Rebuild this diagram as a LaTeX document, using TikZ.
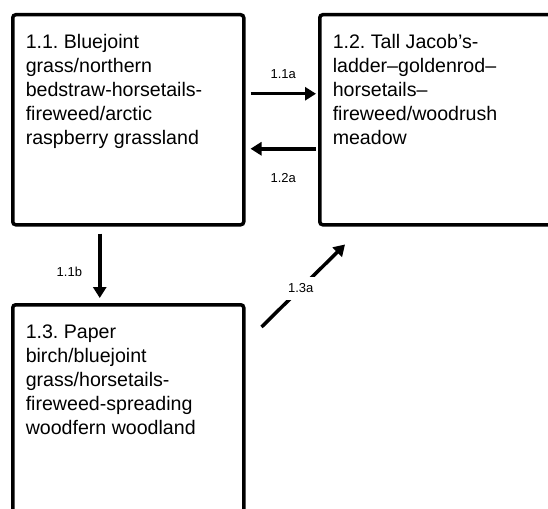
\documentclass[tikz,border=0pt]{standalone}
\usepackage{fontspec}
\setmainfont{Liberation Sans}
\usetikzlibrary{arrows.meta}

\begin{document}
\frenchspacing
\begin{tikzpicture}
        [x=1pt, y=-1pt,
         box/.style={draw, line width=3.5pt, rounded corners=3pt, anchor=north west, inner xsep=13pt, inner ysep=20pt, font=\fontsize{19.6}{24}\selectfont},
         flow/.style={line width=3.5pt, -{Triangle[length=11pt,width=13pt]}},
         lab/.style={font=\fontsize{13}{15}\selectfont, inner sep=0pt}]

        \useasboundingbox (0,0) rectangle (548,508);

        \node[box] (b11) at (11,13) {\parbox[t][170pt][t]{205pt}{1.1. Bluejoint\\grass/northern\\bedstraw-horsetails-\\fireweed/arctic\\raspberry grassland}};
        \node[box] (b12) at (318,13) {\parbox[t][170pt][t]{216pt}{1.2. Tall Jacob’s-\\ladder–goldenrod–\\horsetails–\\fireweed/woodrush\\meadow}};
        \node[box] (b13) at (11,303) {\parbox[t][177pt][t]{205pt}{1.3. Paper\\birch/bluejoint\\grass/horsetails-\\fireweed-spreading\\woodfern woodland}};

        \draw[flow] ([shift={(5,-26)}]b11.east) -- ([shift={(-2,-26)}]b12.west) node[lab, midway, above=13.5pt] {1.1a};
        \draw[flow] ([shift={(-2,29)}]b12.west) -- ([shift={(5,29)}]b11.east) node[lab, midway, below=23pt] {1.2a};
        \draw[flow] ([shift={(-28.5,7)}]b11.south) -- ([shift={(-28.5,-5)}]b13.north) node[lab, pos=0.6, left=16pt] {1.1b};
        \draw[flow] ([shift={(16,24)}]b13.north east) -- ([shift={(27,18)}]b12.south west) node[lab, pos=0.47, fill=white, inner xsep=2pt, inner ysep=7pt] {1.3a};

      \end{tikzpicture}
\end{document}
